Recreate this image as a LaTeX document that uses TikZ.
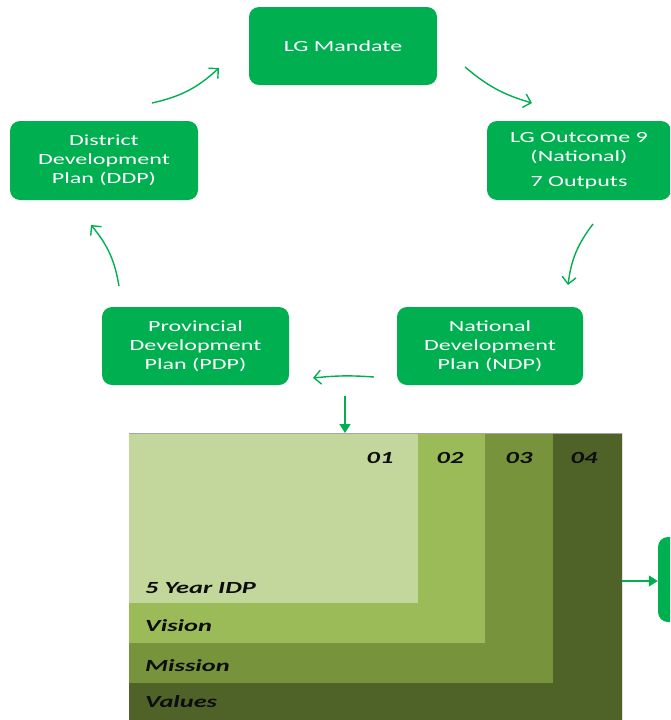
\documentclass[tikz,border=0pt]{standalone}
\usepackage{fontspec}
\setmainfont[FakeStretch=1.55]{Carlito}
\usetikzlibrary{arrows.meta,calc}
\definecolor{lggreen}{HTML}{00B050}
\definecolor{layA}{HTML}{C3D69B}
\definecolor{layB}{HTML}{9BBB59}
\definecolor{layC}{HTML}{77933C}
\definecolor{layD}{HTML}{4F6228}
\definecolor{labtext}{HTML}{0D0D0D}
\begin{document}
\begin{tikzpicture}[x=1pt,y=-1pt,
  gbox/.style={fill=lggreen, rounded corners=10pt, text=white, align=center,
    font=\fontsize{15.5}{19}\selectfont, inner sep=0pt},
  cyc/.style={draw=lggreen, line width=1.4pt, -{Straight Barb[length=7pt,width=14pt]}},
  fwd/.style={draw=lggreen, line width=1.4pt, -{Triangle[length=9pt,width=11pt]}},
  lab/.style={text=labtext, font=\fontsize{17}{20}\selectfont\bfseries\itshape, inner sep=0pt},
  num/.style={lab, anchor=base}
]
\useasboundingbox (0,0) rectangle (670,720);
\clip (0,0) rectangle (670,720);

% cycle boxes
\node[gbox, minimum width=188pt, minimum height=78pt] (mand) at (343,46) {LG Mandate};
\node[gbox, minimum width=188pt, minimum height=79pt] (dist) at (104,160.5) {District\\Development\\Plan (DDP)};
\node[gbox, minimum width=184pt, minimum height=79pt] (outc) at (579,160.5) {LG Outcome 9\\(National)\\[6pt]7 Outputs};
\node[gbox, minimum width=187pt, minimum height=78pt] (prov) at (195.5,346) {Provincial\\Development\\Plan (PDP)};
\node[gbox, minimum width=186pt, minimum height=78pt] (natl) at (490,346) {National\\Development\\Plan (NDP)};
\node[gbox, minimum width=192pt, minimum height=85pt] (next) at (754,579.5) {};

% cycle arrows (free ends)
\coordinate (a1s) at (152,103); \coordinate (a1e) at (219,68);
\coordinate (a2s) at (465,67);  \coordinate (a2e) at (532,103);
\coordinate (a3s) at (593,224); \coordinate (a3e) at (568,285);
\coordinate (a4s) at (374,377); \coordinate (a4e) at (313,378);
\coordinate (a5s) at (119,286); \coordinate (a5e) at (91,225);
\draw[cyc] (a1s) to[bend right=15] (a1e);
\draw[cyc] (a2s) to[bend right=12] (a2e);
\draw[cyc] (a3s) to[bend right=15] (a3e);
\draw[cyc] (a4s) to[bend right=5] (a4e);
\draw[cyc] (a5s) to[bend right=15] (a5e);

% layered block
\fill[layD] (129,433) rectangle (622,720);
\fill[layC] (129,433) rectangle (553,683);
\fill[layB] (129,433) rectangle (485,643);
\fill[layA] (129,433) rectangle (418,603);
\draw[draw=black!35, line width=0.8pt] (129,433) -- (622,433);
\draw[draw=black!12, line width=0.6pt] (622,433) -- (622,720);

\node[num] (n1) at (380,463) {01};
\node[num] (n2) at (450,463) {02};
\node[num] (n3) at (519,463) {03};
\node[num] (n4) at (584,463) {04};
\node[lab, anchor=base west] (l1) at (145,593) {5 Year IDP};
\node[lab, anchor=base west] (l2) at (145,631) {Vision};
\node[lab, anchor=base west] (l3) at (145,671) {Mission};
\node[lab, anchor=base west] (l4) at (145,707) {Values};

\coordinate (blk) at (345,433);
\coordinate (blkr) at (622,581);
\coordinate (dtop) at (345,396);
\draw[fwd] (dtop) -- (blk);
\draw[fwd] (blkr) -- (next.west |- blkr) ;
\end{tikzpicture}
\end{document}
